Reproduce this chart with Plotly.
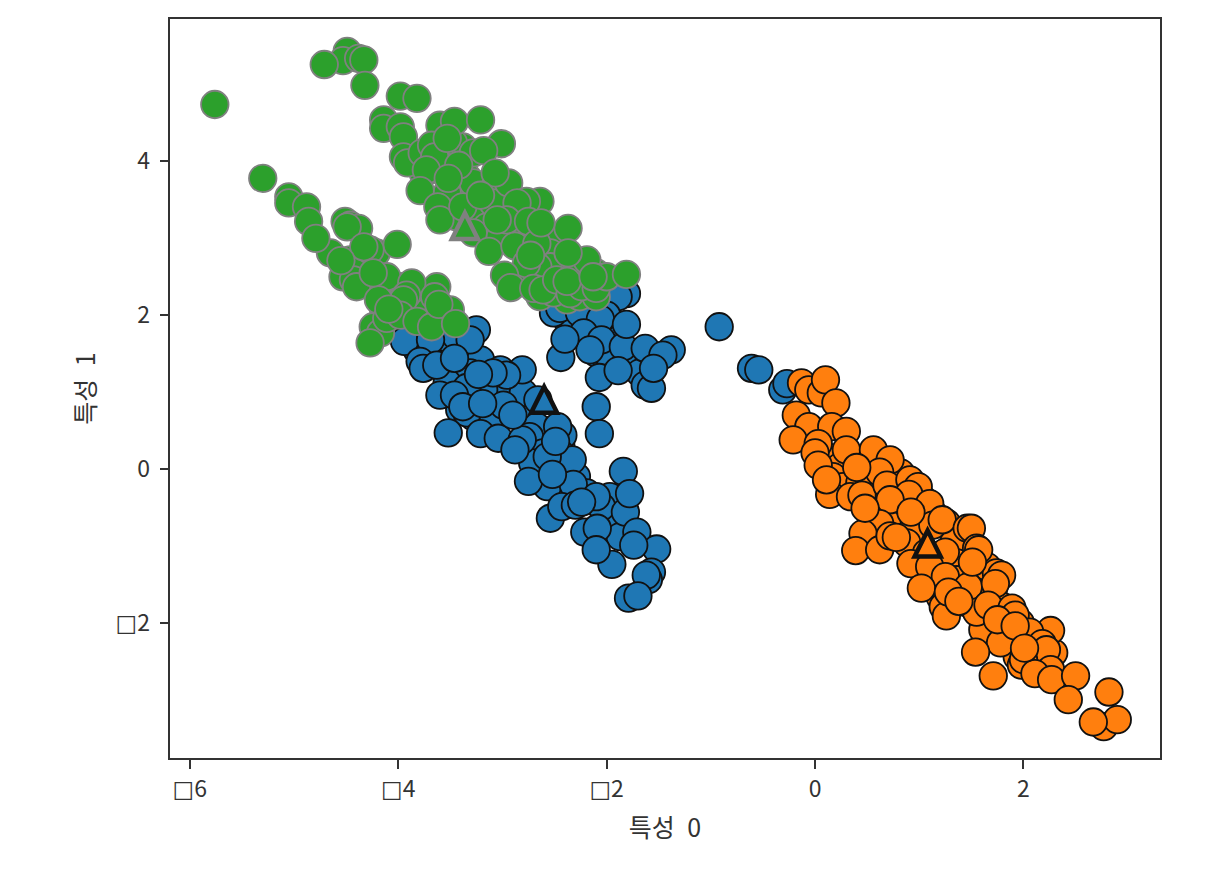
# Scatter of three clusters over two features, with cluster centres as triangles
import plotly.graph_objects as go

# Cluster 0
blue_x = [-2.44, -2.60, -2.55, -2.42,
          -3.12, -3.05, -2.93, -2.80, -3.28, -3.41, -3.09, -2.77, -2.67, -2.74, -2.61, -2.71, -2.45, -2.57,
          -2.48, -2.29, -2.19, -1.94, -1.97, -1.87, -2.38, -2.16, -1.97, -2.10, -1.97, -1.75, -1.68, -2.10,
          -2.32, -2.51, -3.53, -3.38, -3.21, -3.02, -3.60, -3.82, -3.53, -3.44, -3.31, -3.18, -3.53, -3.34,
          -0.92, -0.61, -0.54, -0.31, -0.27, -1.81, -1.89, -2.51, -2.45, -2.26, -2.00, -2.06, -2.22, -2.05,
          -1.84, -2.16, -2.44, -1.63, -1.38, -1.46, -2.07, -1.63, -1.57, -2.10, -2.07, -3.25, -3.31, -3.94,
          -3.69, -3.79, -3.76, -3.63, -2.81, -2.96, -3.09, -3.34, -3.60, -3.46, -3.38, -2.99, -2.66, -3.52,
          -3.21, -3.04, -2.81, -2.88, -2.47, -2.33, -2.57, -2.75, -2.32, -2.54, -2.43, -2.30, -2.05, -2.10,
          -1.84, -1.82, -2.21, -2.09, -1.71, -1.95, -1.52, -1.57, -1.60, -1.79, -1.81, -2.40, -1.89, -1.55,
          -3.46, -3.23, -3.19, -2.90, -2.49, -2.52, -2.24, -1.78, -2.10, -1.74, -1.62, -1.70]
blue_y = [0.30, 0.35, 0.50, 0.44,
          0.86, 0.99, 1.03, 0.99, 0.68, 0.77, 0.64, 0.64, 0.55, 0.42, 0.21, 0.08, 0.21, -0.23,
          -0.01, -0.10, -0.31, -0.66, -0.36, -0.88, 1.94, 1.90, 1.81, 1.51, 1.46, 1.42, 1.25, 2.20,
          2.16, 2.13, 1.46, 1.46, 1.42, 1.29, 1.33, 1.55, 1.70, 1.72, 1.25, 1.03, 1.12, 0.73,
          1.85, 1.31, 1.29, 1.03, 1.11, 2.28, 2.24, 2.03, 2.09, 2.03, 2.00, 1.95, 1.77, 1.68,
          1.59, 1.55, 1.45, 1.57, 1.55, 1.48, 1.19, 1.09, 1.05, 0.81, 0.46, 1.81, 1.68, 1.66,
          1.68, 1.40, 1.31, 1.35, 1.29, 1.22, 1.25, 1.06, 0.96, 0.96, 0.81, 0.83, 0.90, 0.47,
          0.46, 0.40, 0.38, 0.25, 0.55, 0.12, 0.16, -0.16, -0.20, -0.64, -0.49, -0.47, -0.49, -0.36,
          -0.03, -0.56, -0.82, -0.77, -0.82, -1.24, -1.04, -1.34, -1.44, -1.68, 1.88, 1.69, 1.28, 1.31,
          1.44, 1.23, 0.85, 0.70, 0.36, -0.07, -0.43, -0.32, -1.05, -0.99, -1.38, -1.65]

# Cluster 1
orange_x = [0.11, 0.24, 0.17, 0.27, 0.43, 0.56, 0.82, 0.82, 0.56, 0.69, 0.85, 1.04, 1.04, 1.13,
            1.26, 0.69, 0.94, 0.88, 1.07, 1.33, 1.36, 1.07, 1.20, 1.36, 1.58, 1.65, 1.71, 1.55,
            1.13, 1.20, 1.23, 1.46, 1.58, 1.80, 1.71, 1.61, 1.97, 2.06, 1.94, 1.98, 2.29,
            -0.13, -0.06, 0.06, 0.10, 0.20, -0.18, -0.06, 0.16, 0.30, -0.21, 0.03, 0.00, 0.30, 0.56,
            0.72, 0.03, 0.62, 0.14, 0.34, 0.45, 0.69, 0.91, 0.99, 0.90, 1.10, 0.72, 0.62, 0.46,
            0.39, 0.62, 0.72, 1.13, 1.22, 1.25, 1.46, 1.50, 0.92, 1.10, 1.55, 1.25, 1.02, 1.47,
            1.74, 1.57, 1.79, 1.73, 1.26, 1.55, 1.66, 1.89, 1.92, 1.78, 1.54, 1.71, 2.26, 2.06,
            2.18, 2.22, 2.00, 2.26, 2.11, 2.27, 2.50, 2.43, 2.82, 2.77, 2.90, 2.67, 0.40, 0.11,
            0.48, 0.92, 0.78, 1.51, 1.28, 1.38, 1.75, 1.92, 2.01]
orange_y = [0.16, 0.03, -0.10, -0.23, -0.18, -0.10, -0.05, -0.27, -0.36, -0.53, -0.62, -0.40, -0.62, -0.57,
            -0.70, -0.70, -0.79, -0.96, -1.09, -0.96, -1.22, -1.44, -1.35, -1.44, -1.44, -1.27, -1.57, -1.66,
            -1.53, -1.66, -1.79, -1.74, -1.74, -1.79, -2.09, -2.09, -2.00, -2.31, -2.44, -2.55, -2.39,
            1.12, 1.03, 0.99, 1.16, 0.86, 0.70, 0.55, 0.55, 0.49, 0.38, 0.33, 0.21, 0.25, 0.25,
            0.12, 0.05, -0.04, -0.33, -0.36, -0.34, -0.21, -0.14, -0.23, -0.33, -0.45, -0.40, -0.71, -0.84,
            -1.06, -1.05, -0.87, -0.73, -0.66, -1.08, -0.77, -0.77, -1.23, -1.27, -1.03, -1.40, -1.55, -1.53,
            -1.35, -1.05, -1.38, -1.49, -1.91, -1.86, -1.77, -1.81, -1.90, -2.26, -2.38, -2.69, -2.10, -2.12,
            -2.27, -2.35, -2.48, -2.61, -2.66, -2.74, -2.69, -3.00, -2.90, -3.35, -3.26, -3.29, 0.02, -0.14,
            -0.51, -0.56, -0.89, -1.21, -1.60, -1.72, -1.96, -2.04, -2.33]

# Cluster 2
green_x = [-3.38, -3.47, -3.34, -3.41, -3.53, -3.28, -3.09, -3.02, -3.34, -3.21, -3.15, -3.44, -3.28, -2.93,
           -2.83, -3.02, -2.77, -2.90, -3.09, -2.57, -2.54, -2.80, -2.67, -2.57, -2.83, -2.64, -2.38, -2.26,
           -2.10, -2.51, -2.26, -2.10, -2.54, -3.76, -3.69, -3.28, -3.63,
           -4.65, -4.46, -4.21, -4.53, -4.40, -4.21, -3.98, -3.86, -4.01, -4.14, -4.24, -3.73, -3.66, -3.63,
           -3.50, -4.17, -3.95, -3.92,
           -5.76, -4.49, -4.53, -4.71, -4.38, -4.33, -4.32, -3.98, -3.82, -4.14, -4.14, -3.98, -3.95, -3.60,
           -3.46, -3.95, -3.91, -3.77, -3.68, -3.65, -3.73, -3.79, -3.62, -3.60, -3.38, -5.30, -5.05, -5.05,
           -4.88, -4.86, -4.79, -4.51, -4.46, -4.38, -4.01, -4.27, -4.43, -4.40, -4.11, -3.87, -3.92, -3.95,
           -3.65, -4.19, -4.11, -3.98, -3.82, -3.68, -4.27, -3.21, -3.01, -2.94, -2.64, -2.77, -2.86, -2.96,
           -2.75, -2.37, -3.13, -2.88, -2.67, -2.19, -2.66, -2.77, -2.98, -2.92, -2.70, -2.61, -2.48, -2.35,
           -2.24, -2.10, -2.00, -1.81, -4.49, -4.33, -4.55, -4.24, -4.09, -3.61, -3.45, -3.53, -3.18, -3.42,
           -3.52, -3.07, -3.21, -3.05, -2.63, -2.73, -2.37, -2.38, -2.13]
green_y = [4.19, 4.24, 3.80, 3.63, 3.59, 3.72, 3.63, 3.54, 3.37, 3.28, 3.15, 3.28, 3.07, 3.15,
           3.02, 3.02, 3.33, 3.37, 3.46, 2.98, 2.81, 2.50, 2.50, 2.50, 2.42, 2.24, 2.20, 2.24,
           2.24, 2.29, 2.59, 2.55, 2.63, 3.85, 3.89, 4.11, 4.02,
           2.81, 2.72, 2.81, 2.50, 2.59, 2.37, 2.37, 2.16, 2.16, 2.07, 1.85, 2.03, 1.94, 2.37,
           2.07, 1.77, 2.24, 2.33,
           4.74, 5.43, 5.31, 5.26, 5.34, 5.32, 4.99, 4.85, 4.82, 4.54, 4.43, 4.45, 4.32, 4.47,
           4.52, 4.06, 3.98, 4.11, 4.21, 4.06, 3.89, 3.62, 3.41, 3.24, 3.41, 3.78, 3.54, 3.46,
           3.41, 3.22, 3.00, 3.22, 3.17, 3.13, 2.92, 2.85, 2.46, 2.37, 2.50, 2.42, 2.26, 2.20,
           2.24, 2.20, 1.96, 2.00, 1.92, 1.85, 1.64, 4.54, 4.23, 3.72, 3.48, 3.48, 3.46, 3.24,
           3.22, 3.13, 2.83, 2.90, 2.93, 2.72, 2.63, 2.67, 2.52, 2.36, 2.35, 2.33, 2.46, 2.28,
           2.37, 2.35, 2.50, 2.53, 3.15, 2.89, 2.71, 2.55, 2.08, 2.14, 1.89, 4.30, 4.14, 3.95,
           3.78, 3.85, 3.56, 3.24, 3.20, 2.78, 2.81, 2.44, 2.50]

# Cluster centres
center_x = [-2.60, 1.08, -3.36]
center_y = [0.90, -0.97, 3.16]

# The minus sign shows as a missing-glyph box in the original
BOX = '<span style="font-family:DejaVu Sans">□</span>'
x_ticks = [-6, -4, -2, 0, 2]
x_tick_labels = [BOX + "6", BOX + "4", BOX + "2", "0", "2"]
y_ticks = [-2, 0, 2, 4]
y_tick_labels = [BOX + "2", "0", "2", "4"]

BLUE, ORANGE, GREEN = "#1f77b4", "#ff7f0e", "#2ca02c"
DARK_EDGE, GREY_EDGE = "#111111", "#808080"
FONT = "Noto Sans CJK KR"
# plotly's triangle-up is squat, so the centres are pixel-sized shapes anchored at the data
TRIANGLE = "M0,13 L13,-13 L-13,-13 Z"

fig = go.Figure()

# Points
for xs, ys, colour, edge in [(blue_x, blue_y, BLUE, DARK_EDGE),
                             (orange_x, orange_y, ORANGE, DARK_EDGE),
                             (green_x, green_y, GREEN, GREY_EDGE)]:
    fig.add_trace(go.Scatter(
        x=xs, y=ys, mode="markers", showlegend=False,
        marker=dict(symbol="circle", size=27.5, color=colour, line=dict(color=edge, width=1.8))
    ))

# Centres sit on top of the points
for cx, cy, colour, edge in zip(center_x, center_y, [BLUE, ORANGE, GREEN], [DARK_EDGE, DARK_EDGE, GREY_EDGE]):
    fig.add_shape(
        type="path", path=TRIANGLE, layer="above",
        xref="x", yref="y", xsizemode="pixel", ysizemode="pixel", xanchor=cx, yanchor=cy,
        fillcolor=colour, line=dict(color=edge, width=4.5)
    )

axis_style = dict(
    showgrid=False, zeroline=False, showline=True, mirror=True,
    linecolor="#333333", linewidth=2,
    ticks="outside", ticklen=8.5, tickwidth=2, tickcolor="#333333",
    tickfont=dict(family=FONT, size=23, color="#333333"),
)

fig.update_layout(
    width=1222, height=874,
    margin=dict(l=170, r=62, t=19, b=116),
    plot_bgcolor="white", paper_bgcolor="white",
    font=dict(family=FONT, size=23, color="#333333"),
    xaxis=dict(range=[-6.19, 3.31], tickvals=x_ticks, ticktext=x_tick_labels, ticklabelstandoff=1,
               title=dict(text="특성\u20020", font=dict(family=FONT, size=25), standoff=16), **axis_style),
    yaxis=dict(range=[-3.758, 5.852], tickvals=y_ticks, ticktext=y_tick_labels, ticklabelstandoff=5,
               title=dict(text="특성\u20021", font=dict(family=FONT, size=25), standoff=13), **axis_style),
)

fig.write_html("out.html", config=dict(displayModeBar=False), post_script="document.body.style.margin = '0';")
